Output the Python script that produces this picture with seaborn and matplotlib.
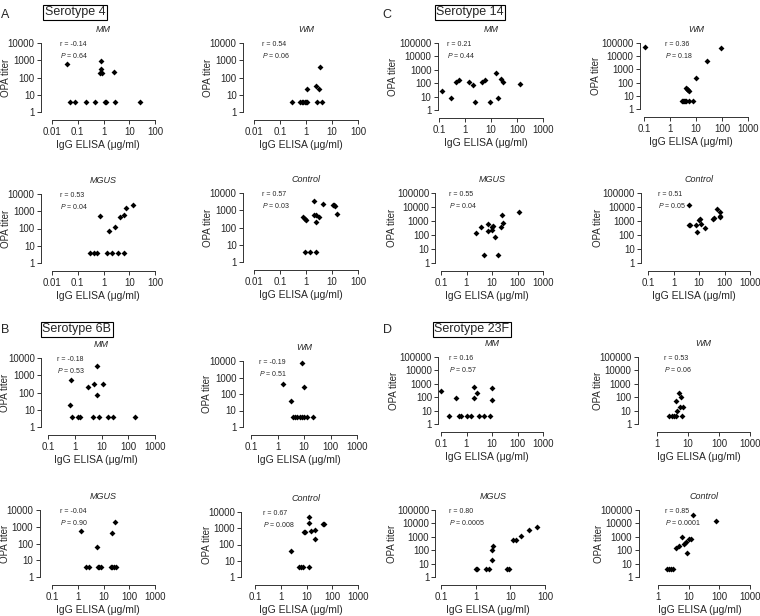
import matplotlib
matplotlib.use("Agg")
import matplotlib.pyplot as plt
import seaborn as sns
import pandas as pd

# ---- data (IgG ELISA ug/ml vs OPA titer) ----
a_mm_x = [0.038, 0.79, 0.82, 0.76, 0.84, 2.6, 0.048, 0.08, 0.21, 0.45, 1.1, 1.3, 2.8, 26]
a_mm_y = [580, 850, 300, 190, 190, 200, 4, 4, 4, 4, 4, 4, 4, 4]
a_wm_x = [1.05, 2.5, 3.2, 3.6, 0.3, 0.6, 0.7, 0.8, 0.9, 1.0, 1.1, 2.7, 4.0]
a_wm_y = [21, 32, 23, 400, 4, 4, 4, 4, 4, 4, 4, 4, 4]
a_mgus_x = [0.7, 1.7, 2.8, 4.2, 6.3, 7.6, 13.8, 0.3, 0.43, 0.55, 1.34, 2.1, 3.5, 6.3]
a_mgus_y = [500, 70, 130, 450, 600, 1600, 2200, 4, 4, 4, 4, 4, 4, 4]
a_ctrl_x = [0.8, 0.9, 1.0, 2.0, 2.0, 2.4, 2.4, 3.2, 4.5, 11, 12, 13, 16, 0.9, 1.4, 2.5]
a_ctrl_y = [380, 300, 270, 3500, 500, 550, 200, 400, 2200, 1900, 2000, 1800, 600, 4, 4, 4]

b_mm_x = [0.65, 0.75, 3.2, 5.3, 7.0, 7.0, 11, 0.79, 1.34, 1.55, 4.7, 8.4, 18, 27, 180]
b_mm_y = [20, 550, 200, 300, 3400, 70, 330, 4, 4, 4, 4, 4, 4, 4, 4]
b_wm_x = [1.6, 3.2, 8.7, 10, 3.9, 4.7, 5.6, 6.9, 8.4, 10, 13, 22]
b_wm_y = [400, 40, 7500, 280, 4, 4, 4, 4, 4, 4, 4, 4]
b_mgus_x = [1.34, 5.5, 22, 27, 2.1, 2.8, 5.9, 6.8, 7.9, 19, 22, 26, 30]
b_mgus_y = [550, 60, 450, 1800, 4, 4, 4, 4, 4, 4, 4, 4, 4]
b_ctrl_x = [2.4, 13, 13, 7.7, 8.9, 14.6, 21, 21, 44, 50, 5.3, 6.3, 7.2, 12.6]
b_ctrl_y = [40, 5000, 2000, 600, 600, 650, 750, 220, 1800, 1900, 4, 4, 4, 4]

c_mm_x = [0.13, 0.3, 0.45, 0.6, 1.4, 2.0, 2.4, 4.5, 6, 9, 16, 19, 24, 28, 130]
c_mm_y = [25, 8, 120, 180, 130, 75, 4, 130, 180, 4, 600, 8, 200, 120, 85]
c_wm_x = [0.11, 95, 27, 10, 4.0, 4.5, 5.0, 5.5, 3.0, 3.3, 3.6, 3.9, 4.2, 5.5, 7.5]
c_wm_y = [50000, 40000, 4000, 220, 40, 33, 28, 24, 4, 4, 4, 4, 4, 4, 4]
c_mgus_x = [2.4, 3.7, 6.8, 6.8, 9.7, 10, 10.5, 13, 23, 24, 27, 110, 5, 17]
c_mgus_y = [130, 350, 200, 600, 230, 400, 450, 75, 350, 2800, 700, 4500, 4, 4]
c_ctrl_x = [4, 4, 4.3, 7.5, 8, 10, 11, 12, 17, 35, 38, 50, 65, 65, 68]
c_ctrl_y = [14000, 500, 500, 500, 160, 1200, 1300, 600, 300, 1500, 1600, 7000, 4500, 2000, 2200]

d_mm_x = [0.1, 0.2, 0.5, 0.4, 0.6, 1, 1.5, 2, 2, 2.5, 3, 5, 8, 10, 10]
d_mm_y = [300, 4, 4, 80, 4, 4, 4, 600, 80, 200, 4, 4, 4, 500, 60]
d_wm_x = [2.5, 3, 3.5, 4, 4, 4.5, 5, 5.5, 6, 6.5, 7]
d_wm_y = [4, 4, 4, 50, 4, 10, 200, 20, 100, 4, 20]
d_mgus_x = [1, 1.1, 2, 2.5, 3, 3, 3.2, 8, 9, 12, 15, 20, 35, 60]
d_mgus_y = [4, 4, 4, 4, 20, 100, 200, 4, 4, 600, 600, 1200, 3000, 5000]
d_ctrl_x = [2, 2.3, 2.6, 3, 4, 5, 6, 7, 8, 9, 10, 12, 14, 80]
d_ctrl_y = [4, 4, 4, 4, 150, 200, 1000, 300, 400, 60, 700, 700, 40000, 15000]

r_vals = {"A": ["-0.14", "0.54", "0.53", "0.57"], "B": ["-0.18", "-0.19", "-0.04", "0.67"],
          "C": ["0.21", "0.36", "0.55", "0.51"], "D": ["0.16", "0.53", "0.80", "0.85"]}
p_vals = {"A": ["0.64", "0.06", "0.04", "0.03"], "B": ["0.53", "0.51", "0.90", "0.008"],
          "C": ["0.44", "0.18", "0.04", "0.05"], "D": ["0.57", "0.06", "0.0005", "0.0001"]}
groups = ["MM", "WM", "MGUS", "Control"]
serotypes = {"A": "Serotype 4", "B": "Serotype 6B", "C": "Serotype 14", "D": "Serotype 23F"}

data = {
    "A": [(a_mm_x, a_mm_y), (a_wm_x, a_wm_y), (a_mgus_x, a_mgus_y), (a_ctrl_x, a_ctrl_y)],
    "B": [(b_mm_x, b_mm_y), (b_wm_x, b_wm_y), (b_mgus_x, b_mgus_y), (b_ctrl_x, b_ctrl_y)],
    "C": [(c_mm_x, c_mm_y), (c_wm_x, c_wm_y), (c_mgus_x, c_mgus_y), (c_ctrl_x, c_ctrl_y)],
    "D": [(d_mm_x, d_mm_y), (d_wm_x, d_wm_y), (d_mgus_x, d_mgus_y), (d_ctrl_x, d_ctrl_y)],
}

# ---- layout in pixels: first x tick, last x tick, top (y max), bottom (y=1), spine offset, xlim, ymax
W, H = 760, 616
layout = {
    "A": [(52, 155, 43, 112, 8, (0.01, 100), 1e4), (254, 358, 43, 112, 8, (0.01, 100), 1e4),
          (52, 155, 194, 263, 8, (0.01, 100), 1e4), (254, 358, 193, 262, 8, (0.01, 100), 1e4)],
    "B": [(48, 155, 358, 427, 5, (0.1, 1000), 1e4), (251, 357, 361, 427, 6, (0.1, 1000), 1e4),
          (52, 155, 510, 577, 9, (0.1, 1000), 1e4), (255, 358, 512, 577, 10, (0.1, 1000), 1e4)],
    "C": [(439, 543, 43, 110, 1, (0.1, 1000), 1e5), (644, 748, 43, 109, 3, (0.1, 1000), 1e5),
          (441, 543, 193, 263, 4, (0.1, 1000), 1e5), (648, 750, 193, 263, 5, (0.1, 1000), 1e5)],
    "D": [(441, 543, 357, 424, 2, (0.1, 1000), 1e5), (657, 750, 357, 424, 14, (1, 1000), 1e5),
          (441, 545, 510, 577, 4, (0.1, 100), 1e5), (658, 750, 510, 577, 14, (1, 1000), 1e5)],
}
r_xoff = {"C": [0.08, 0.2, 0.08, 0.1]}

sns.set_style("ticks")
plt.rcParams["font.family"] = ["Liberation Sans", "DejaVu Sans"]
plt.rcParams["mathtext.fontset"] = "custom"
plt.rcParams["mathtext.rm"] = "Liberation Sans"
plt.rcParams["mathtext.it"] = "Liberation Sans:italic"


def fmt(v):
    return str(int(v)) if v >= 1 else "{:g}".format(v)


fig = plt.figure(figsize=(W / 100, H / 100), dpi=100)

for key in ["A", "B", "C", "D"]:
    for i, (xs, ys) in enumerate(data[key]):
        x0, x1, top, bot, off, xlim, ymax = layout[key][i]
        ax = fig.add_axes([x0 / W, 1 - bot / H, (x1 - x0) / W, (bot - top) / H])
        df = pd.DataFrame({"elisa": xs, "opa": ys})
        sns.scatterplot(data=df, x="elisa", y="opa", ax=ax, marker="D", s=9,
                        color="black", linewidth=0, clip_on=False)
        ax.set_xscale("log")
        ax.set_yscale("log")
        ax.set_xlim(*xlim)
        ax.set_ylim(1, ymax)
        xt = [xlim[0] * 10 ** k for k in range(20) if xlim[0] * 10 ** k <= xlim[1] * 1.001]
        yt = [10 ** k for k in range(20) if 10 ** k <= ymax * 1.001]
        ax.set_xticks(xt)
        ax.set_xticklabels([fmt(v) for v in xt])
        ax.set_yticks(yt)
        ax.set_yticklabels([fmt(v) for v in yt])
        ax.minorticks_off()
        ax.tick_params(labelsize=7, length=3, width=0.7, pad=1.5, color="#333333")
        for s in ["top", "right"]:
            ax.spines[s].set_visible(False)
        for s in ["left", "bottom"]:
            ax.spines[s].set_linewidth(0.7)
            ax.spines[s].set_color("#333333")
        ax.spines["bottom"].set_position(("outward", 6))
        ax.spines["left"].set_position(("outward", off))
        ax.set_xlabel("IgG ELISA (\u03bcg/ml)", fontsize=7.5)
        ax.set_ylabel("OPA titer", fontsize=7)
        wpx, hpx = x1 - x0, bot - top
        dist = 33 if ymax < 1e5 else 40
        ax.yaxis.set_label_coords(-(off + dist) / wpx, 0.5)
        ax.xaxis.set_label_coords(0.45, -28 / hpx)
        ax.set_title(groups[i], fontsize=6.5, fontstyle="italic", pad=8)
        xo = r_xoff.get(key, [0.08] * 4)[i]
        ax.text(xo, 1.03, "r = " + r_vals[key][i], transform=ax.transAxes,
                fontsize=5, va="top")
        ax.text(xo, 0.88, "$P$ = " + p_vals[key][i], transform=ax.transAxes,
                fontsize=5, va="top")

boxes = {"A": (75, 12, 5, 15), "C": (470, 12, 387, 15), "B": (77, 329, 5, 330), "D": (472, 329, 387, 330)}
for key, (bx, by, lx, ly) in boxes.items():
    fig.text(bx / W, 1 - by / H, serotypes[key], fontsize=9, ha="center", va="center",
             bbox=dict(boxstyle="square,pad=0.12", fc="white", ec="black", lw=0.8))
    fig.text(lx / W, 1 - ly / H, key, fontsize=9, ha="center", va="center")

fig.savefig("out.png", dpi=100)
